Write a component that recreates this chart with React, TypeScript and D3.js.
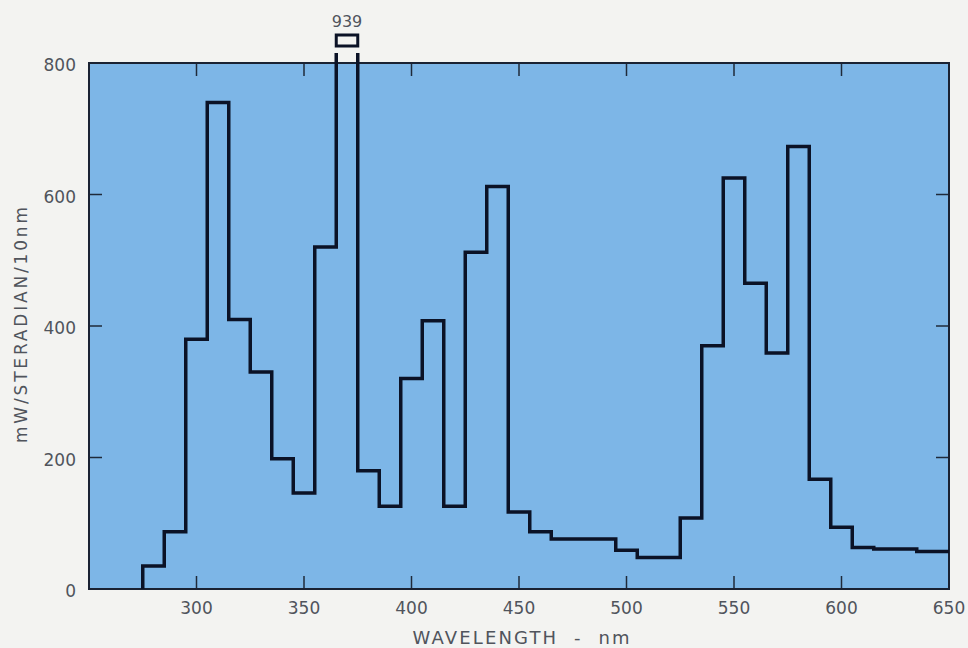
import React, { useEffect, useRef } from 'react';
import * as d3 from 'd3';

// 10 nm bins, start wavelength of each bin
const binStarts = [275, 285, 295, 305, 315, 325, 335, 345, 355, 365, 375, 385, 395, 405, 415, 425, 435, 445, 455, 465, 475, 485, 495, 505, 515, 525, 535, 545, 555, 565, 575, 585, 595, 605, 615, 625, 635];
const radiance = [35, 87, 380, 740, 410, 330, 198, 146, 520, 939, 180, 126, 320, 408, 126, 512, 612, 117, 87, 76, 76, 76, 59, 48, 48, 108, 370, 625, 465, 359, 673, 167, 94, 63, 61, 61, 57];
const xTicks = [300, 350, 400, 450, 500, 550, 600, 650];
const yTicks = [0, 200, 400, 600, 800];
const peakLabel = '939';
const xTitle = 'WAVELENGTH  -  nm';
const yTitle = 'mW/STERADIAN/10nm';

const W = 968;
const H = 648;
const margin = { top: 63, right: 19, bottom: 59, left: 89 };
const font = '"DejaVu Sans", "Liberation Sans", Arial, sans-serif';
const textColor = '#50545c';

const App = () => {
    const svgRef = useRef<SVGSVGElement | null>(null);

    useEffect(() => {
        const svg = d3.select(svgRef.current);
        svg.selectAll('*').remove();

        const x = d3.scaleLinear().domain([250, 650]).range([margin.left, W - margin.right]);
        const y = d3.scaleLinear().domain([0, 800]).range([H - margin.bottom, margin.top]);
        const x0 = x.range()[0], x1 = x.range()[1];
        const y0 = y.range()[0], y1 = y.range()[1];

        svg.append('rect').attr('width', W).attr('height', H).attr('fill', '#f3f3f1');

        svg.append('rect')
            .attr('x', x0).attr('y', y1)
            .attr('width', x1 - x0).attr('height', y0 - y1)
            .attr('fill', '#7db6e7');

        // tick marks, all pointing inward
        const tickLen = 13;
        const tickColor = '#1f2a3a';
        xTicks.forEach(t => {
            svg.append('line').attr('x1', x(t)).attr('x2', x(t)).attr('y1', y0).attr('y2', y0 - tickLen)
                .attr('stroke', tickColor).attr('stroke-width', 1.5);
            svg.append('line').attr('x1', x(t)).attr('x2', x(t)).attr('y1', y1).attr('y2', y1 + tickLen)
                .attr('stroke', tickColor).attr('stroke-width', 1.5);
            svg.append('text').attr('x', x(t)).attr('y', y0 + 25)
                .attr('text-anchor', 'middle').attr('font-family', font).attr('font-size', 17)
                .attr('fill', textColor).text(t);
        });
        yTicks.forEach(t => {
            svg.append('line').attr('x1', x0).attr('x2', x0 + tickLen).attr('y1', y(t)).attr('y2', y(t))
                .attr('stroke', tickColor).attr('stroke-width', 1.5);
            svg.append('line').attr('x1', x1).attr('x2', x1 - tickLen).attr('y1', y(t)).attr('y2', y(t))
                .attr('stroke', tickColor).attr('stroke-width', 1.5);
            svg.append('text').attr('x', x0 - 13).attr('y', y(t) + 8)
                .attr('text-anchor', 'end').attr('font-family', font).attr('font-size', 17)
                .attr('fill', textColor).text(t);
        });

        // frame
        svg.append('rect')
            .attr('x', x0).attr('y', y1)
            .attr('width', x1 - x0).attr('height', y0 - y1)
            .attr('fill', 'none').attr('stroke', '#1a2233').attr('stroke-width', 2);

        // step outline, clipped just above the frame so the 939 bin is broken
        const clipTop = y1 - 10;
        svg.append('clipPath').attr('id', 'stepclip')
            .append('rect').attr('x', 0).attr('y', clipTop).attr('width', W).attr('height', H - clipTop);

        let d = `M${x(binStarts[0])},${y(0)}`;
        binStarts.forEach((s, i) => {
            const end = i < binStarts.length - 1 ? binStarts[i + 1] : 650;
            d += `V${y(radiance[i])}H${x(Math.min(end, 650))}`;
        });
        svg.append('path').attr('d', d)
            .attr('clip-path', 'url(#stepclip)')
            .attr('fill', 'none').attr('stroke', '#0b1226').attr('stroke-width', 3.5)
            .attr('stroke-linejoin', 'miter');

        // top of the off-scale bin drawn as a small box
        const peakIdx = radiance.indexOf(d3.max(radiance) as number);
        const px0 = x(binStarts[peakIdx]);
        const px1 = x(binStarts[peakIdx + 1]);
        svg.append('path')
            .attr('d', `M${px0},${y1 - 17}V${y1 - 28}H${px1}V${y1 - 17}Z`)
            .attr('fill', 'none').attr('stroke', '#0b1226').attr('stroke-width', 3);
        svg.append('text').attr('x', (px0 + px1) / 2).attr('y', y1 - 36)
            .attr('text-anchor', 'middle').attr('font-family', font).attr('font-size', 16)
            .attr('fill', textColor).text(peakLabel);

        svg.append('text')
            .attr('x', (x0 + x1) / 2 + 2).attr('y', H - 4)
            .attr('text-anchor', 'middle').attr('font-family', font).attr('font-size', 18)
            .attr('textLength', 217).attr('lengthAdjust', 'spacing').attr('fill', textColor)
            .style('white-space', 'pre').text(xTitle);

        svg.append('text')
            .attr('transform', `translate(27,325) rotate(-90)`)
            .attr('text-anchor', 'middle').attr('font-family', font).attr('font-size', 17)
            .attr('textLength', 236).attr('lengthAdjust', 'spacing')
            .attr('fill', textColor).text(yTitle);
    }, []);

    return (
        <svg ref={svgRef} width={W} height={H}
            style={{ position: 'fixed', left: 0, top: 0, display: 'block' }} />
    );
};

export default App;
